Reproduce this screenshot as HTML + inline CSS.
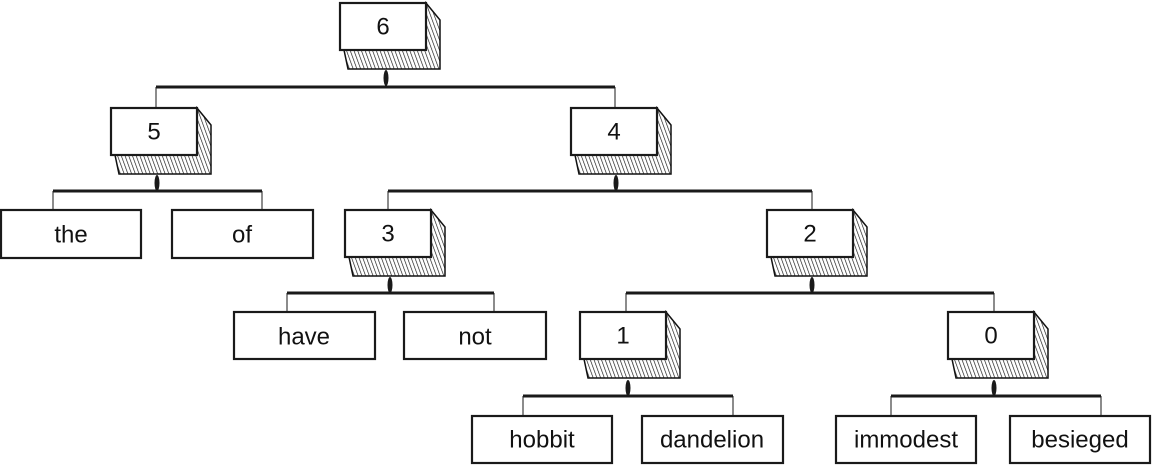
<!DOCTYPE html>
<html><head><meta charset="utf-8"><style>
html,body{margin:0;padding:0;background:#fff;}
svg{display:block}
text{font-family:"Liberation Sans",sans-serif;font-size:24px;fill:#111;text-anchor:middle;dominant-baseline:central}
</style></head><body>
<svg width="1153" height="467" viewBox="0 0 1153 467" xmlns="http://www.w3.org/2000/svg">
<defs>
<pattern id="h" width="3.5" height="4" patternUnits="userSpaceOnUse" patternTransform="rotate(-20)">
<line x1="0" y1="0" x2="0" y2="4" stroke="#111" stroke-width="1.3"/>
</pattern>
<g id="sh"><polygon points="4,47 8,66 100,66 100,17 86,0 86,47" fill="url(#h)" stroke="#111" stroke-width="1.5"/></g>
</defs>
<g stroke="#1a1a1a" fill="none">
<g stroke-width="3">
<line x1="156" y1="87" x2="615" y2="87"/>
<line x1="53" y1="191" x2="262" y2="191"/>
<line x1="388" y1="191" x2="812" y2="191"/>
<line x1="287" y1="293" x2="494" y2="293"/>
<line x1="626" y1="293" x2="994" y2="293"/>
<line x1="523" y1="396" x2="733" y2="396"/>
<line x1="891" y1="396" x2="1101" y2="396"/>
</g>
<g stroke-width="1">
<path d="M156 87V108M615 87V108M53 191V210M262 191V210M388 191V210M812 191V210M287 293V312M494 293V312M626 293V312M994 293V312M523 396V416M733 396V416M891 396V416M1101 396V416"/>
</g>
<g fill="#1a1a1a" stroke="none">
<ellipse cx="386" cy="78" rx="2.5" ry="8"/>
<ellipse cx="157" cy="183" rx="2.5" ry="8"/>
<ellipse cx="616" cy="183" rx="2.5" ry="8"/>
<ellipse cx="390" cy="285" rx="2.5" ry="8"/>
<ellipse cx="812" cy="285" rx="2.5" ry="8"/>
<ellipse cx="628" cy="388" rx="2.5" ry="8"/>
<ellipse cx="994" cy="388" rx="2.5" ry="8"/>
</g>
<g stroke-width="2.2" fill="#fff">
<use href="#sh" x="340" y="3"/><rect x="340" y="3" width="86" height="47"/>
<use href="#sh" x="111" y="108"/><rect x="111" y="108" width="86" height="47"/>
<use href="#sh" x="571" y="108"/><rect x="571" y="108" width="86" height="47"/>
<use href="#sh" x="345" y="210"/><rect x="345" y="210" width="86" height="47"/>
<use href="#sh" x="767" y="210"/><rect x="767" y="210" width="86" height="47"/>
<use href="#sh" x="580" y="312"/><rect x="580" y="312" width="86" height="47"/>
<use href="#sh" x="948" y="312"/><rect x="948" y="312" width="86" height="47"/>
<rect x="1" y="210" width="140" height="48"/>
<rect x="172" y="210" width="141" height="48"/>
<rect x="234" y="312" width="141" height="47"/>
<rect x="404" y="312" width="142" height="47"/>
<rect x="472" y="416" width="140" height="47"/>
<rect x="642" y="416" width="141" height="47"/>
<rect x="836" y="416" width="140" height="47"/>
<rect x="1010" y="416" width="140" height="47"/>
</g>
</g>
<text x="383" y="27">6</text>
<text x="154" y="132">5</text>
<text x="614" y="132">4</text>
<text x="388" y="234">3</text>
<text x="810" y="234">2</text>
<text x="623" y="336">1</text>
<text x="991" y="336">0</text>
<text x="71" y="235">the</text>
<text x="242" y="235">of</text>
<text x="304" y="337">have</text>
<text x="475" y="337">not</text>
<text x="542" y="440">hobbit</text>
<text x="712" y="440">dandelion</text>
<text x="906" y="440">immodest</text>
<text x="1080" y="440">besieged</text>
</svg>
</body></html>
